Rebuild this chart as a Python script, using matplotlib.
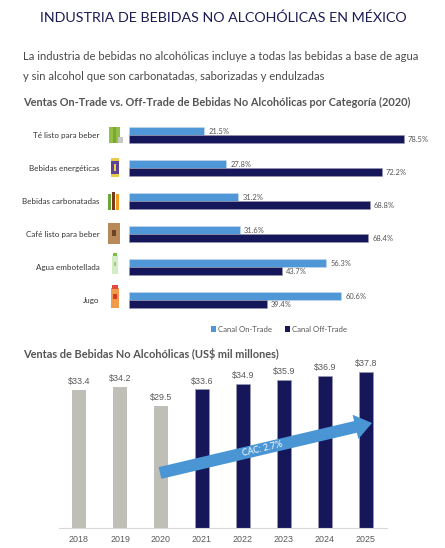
import numpy as np
import matplotlib
matplotlib.use("Agg")
from matplotlib import pyplot as plt
from matplotlib.patches import Rectangle, Polygon

# data
categories = ["Té listo para beber", "Bebidas energéticas", "Bebidas carbonatadas",
              "Café listo para beber", "Agua embotellada", "Jugo"]
onTrade = [21.5, 27.8, 31.2, 31.6, 56.3, 60.6]
offTrade = [78.5, 72.2, 68.8, 68.4, 43.7, 39.4]

years = ["2018", "2019", "2020", "2021", "2022", "2023", "2024", "2025"]
sales = [33.4, 34.2, 29.5, 33.6, 34.9, 35.9, 36.9, 37.8]
nHistoric = 3

W, H = 445, 548
blue = "#4f97d6"
navy = "#16175a"
grey = "#bfbfb8"
txt = "#555555"

fig = plt.figure(figsize=(W / 100, H / 100), dpi=100)
fig.patch.set_facecolor("white")

def fx(x):
    return x / W

def fy(y):
    return 1 - y / H

def axrect(l, t, r, b):
    return [fx(l), fy(b), fx(r) - fx(l), fy(t) - fy(b)]

# header texts
fig.text(fx(223), fy(18), "INDUSTRIA DE BEBIDAS NO ALCOHÓLICAS EN MÉXICO", family="Lato",
         fontsize=10.3, color="#1c1c55", ha="center", va="center")
fig.text(fx(23), fy(57), "La industria de bebidas no alcohólicas incluye a todas las bebidas a base de agua",
         family="Lato", fontsize=8.1, color="#4a4a4a", ha="left", va="center")
fig.text(fx(23), fy(77), "y sin alcohol que son carbonatadas, saborizadas y endulzadas",
         family="Lato", fontsize=8.1, color="#4a4a4a", ha="left", va="center")
fig.text(fx(23), fy(102), "Ventas On-Trade vs. Off-Trade de Bebidas No Alcohólicas por Categoría (2020)",
         family="Lato", fontsize=7.95, weight="bold", color=txt, ha="left", va="center")

# top chart: horizontal bars
ax1 = fig.add_axes(axrect(129, 118.5, 479, 316.5))
pos = np.arange(len(categories))
h = 0.24
ax1.barh(pos - h / 2, onTrade, height=h, color=blue, edgecolor="#c9d9ea", linewidth=0.4)
ax1.barh(pos + h / 2, offTrade, height=h, color=navy, edgecolor="#9a9ab0", linewidth=0.4)
for i in range(len(categories)):
    ax1.text(onTrade[i] + 1.2, pos[i] - h / 2, f"{onTrade[i]:.1f}%", fontsize=5.4, family="Lato",
             color=txt, va="center", ha="left")
    ax1.text(offTrade[i] + 1.2, pos[i] + h / 2 + 0.03, f"{offTrade[i]:.1f}%", fontsize=5.4, family="Lato",
             color=txt, va="center", ha="left")
ax1.set_xlim(0, 100)
ax1.set_ylim(len(categories) - 0.5, -0.5)
ax1.set_yticks(pos)
ax1.set_yticklabels(categories, family="Lato", fontsize=5.8, color="#333333")
ax1.tick_params(axis="y", length=0, pad=21)
ax1.set_xticks([])
for s in ax1.spines.values():
    s.set_visible(False)

# icons (simple shapes)
def box(l, t, r, b, c):
    fig.add_artist(Rectangle((fx(l), fy(b)), fx(r) - fx(l), fy(t) - fy(b), transform=fig.transFigure,
                             facecolor=c, edgecolor="none"))

box(109, 127, 120, 143, "#93bf45"); box(113, 127, 116, 143, "#79a835"); box(118, 137, 123, 143, "#c8c8c8")
box(111, 158, 119, 177, "#5a4399"); box(111, 158, 119, 161, "#e8c94a"); box(111, 174, 119, 177, "#e8c94a")
box(114, 164, 116, 171, "#f5d03c")
box(108, 194, 111, 210, "#6aa63a"); box(112, 192, 115, 210, "#7a3a1c"); box(116, 194, 119, 210, "#f0a020")
box(108, 223, 120, 244, "#b88a5a"); box(112, 230, 116, 236, "#6b4326")
box(112, 256, 118, 274, "#d6ecc6"); box(113, 253, 117, 256, "#7cc043"); box(114, 262, 116, 266, "#9ccf7a")
box(111, 288, 119, 308, "#f19a4a"); box(112, 285, 118, 289, "#e24b3b"); box(113, 294, 117, 299, "#d9362c")

# legend
box(211, 326, 216, 332, blue)
fig.text(fx(218), fy(329), "Canal On-Trade", fontsize=5.6, family="Lato", color=txt, ha="left", va="center")
box(285, 326, 290, 332, navy)
fig.text(fx(292), fy(329), "Canal Off-Trade", fontsize=5.6, family="Lato", color=txt, ha="left", va="center")

# bottom chart title
fig.text(fx(23), fy(354), "Ventas de Bebidas No Alcohólicas (US$ mil millones)",
         family="Lato", fontsize=7.9, weight="bold", color=txt, ha="left", va="center")

# bottom chart: vertical bars
ax2 = fig.add_axes(axrect(58.5, 360, 386.5, 528))
x = np.arange(len(years))
colors = [grey] * nHistoric + [navy] * (len(years) - nHistoric)
edges = ["none"] * nHistoric + ["#9a9ab0"] * (len(years) - nHistoric)
ax2.bar(x, sales, width=0.34, color=colors, edgecolor=edges, linewidth=0.5)
for i in range(len(years)):
    ax2.text(x[i], sales[i] + 0.9, f"${sales[i]:.1f}", fontsize=6.4, family="Liberation Sans",
             color="#595959", ha="center", va="bottom")
ax2.set_xlim(-0.5, len(years) - 0.5)
ax2.set_ylim(0, 168 / 4.13)
ax2.set_xticks(x)
ax2.set_xticklabels(years, family="Liberation Sans", fontsize=6.4, color="#595959")
ax2.tick_params(axis="x", length=0, pad=5)
ax2.set_yticks([])
for k in ["top", "left", "right"]:
    ax2.spines[k].set_visible(False)
ax2.spines["bottom"].set_color("#d9d9d9")
ax2.spines["bottom"].set_linewidth(0.8)

# growth arrow (pixel geometry)
tail = np.array([160.0, 473.0])
tip = np.array([372.0, 423.0])
d = tip - tail
L = np.hypot(*d)
u = d / L
n = np.array([-u[1], u[0]])
shaftW, headW, headL = 12.0, 25.0, 17.0
base = tip - u * headL
pts = [tail + n * shaftW / 2, base + n * shaftW / 2, base + n * headW / 2, tip,
       base - n * headW / 2, base - n * shaftW / 2, tail - n * shaftW / 2]
fig.add_artist(Polygon([(fx(p[0]), fy(p[1])) for p in pts], closed=True, transform=fig.transFigure,
                       facecolor="#4a96d5", edgecolor="none", zorder=5))
ang = np.degrees(np.arctan2(tail[1] - tip[1], tip[0] - tail[0]))
fig.text(fx(262), fy(449), "CAC: 2.7%", fontsize=6.3, family="Lato", color="white", rotation=ang,
         ha="center", va="center", rotation_mode="anchor", zorder=6)

fig.savefig("out.png", dpi=100, facecolor="white")
